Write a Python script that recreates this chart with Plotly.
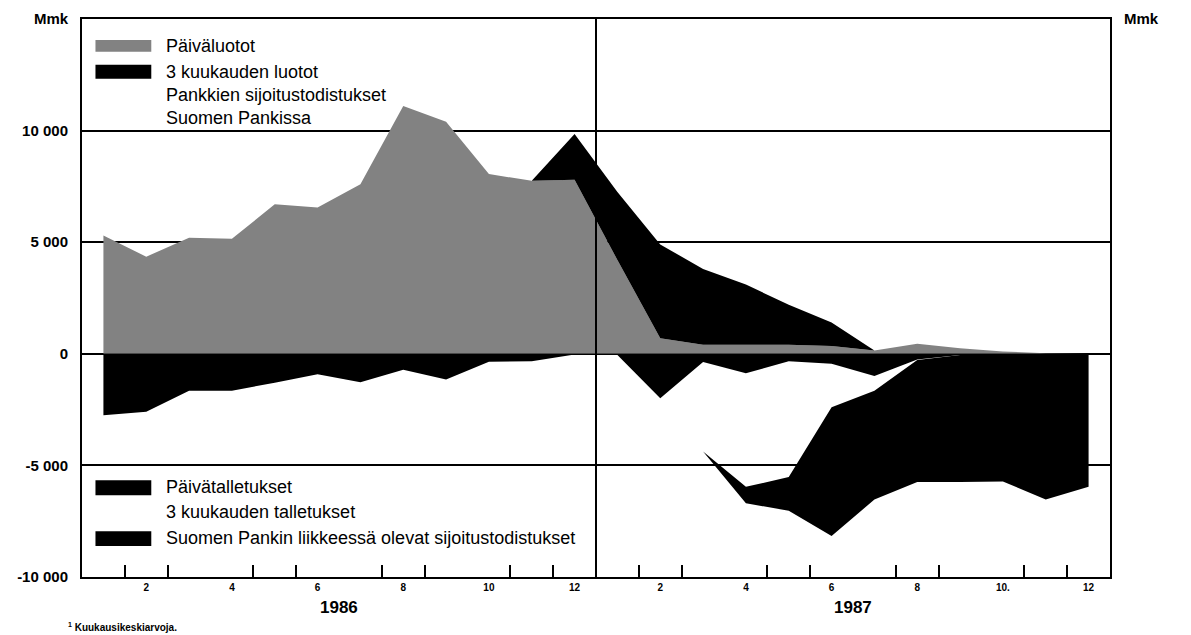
import plotly.graph_objects as go

# ---- data (Mmk, monthly averages) ----
# positions 1..12 = 1986 Jan..Dec, 13..24 = 1987 Jan..Dec
month_pos = [1, 2, 3, 4, 5, 6, 7, 8, 9, 10, 11, 12,
             13, 14, 15, 16, 17, 18, 19, 20, 21, 22, 23, 24]
tick_pos = [2, 4, 6, 8, 10, 12, 14, 16, 18, 20, 22, 24]
tick_text = ["2", "4", "6", "8", "10", "12", "2", "4", "6", "8", "10.", "12"]
year_pos = [6.5, 18.5]
year_text = ["1986", "1987"]

paivaluotot = [5300, 4350, 5200, 5150, 6700, 6550, 7600, 11100, 10400, 8050, 7750, 7800,
               4200, 700, 400, 400, 400, 350, 150, 450, 250, 100, 30, 0]
kk3_luotot = [0, 0, 0, 0, 0, 0, 0, 0, 0, 0, 0, 2050,
              3050, 4200, 3400, 2700, 1800, 1050, 0, 0, 0, 0, 0, 0]
paivatalletukset = [-2750, -2600, -1650, -1650, -1300, -920, -1280, -710, -1150, -360, -330, -30,
                    -50, -1990, -370, -875, -330, -445, -995, -250, -50, -30, -20, -20]
kk3_talletukset = [0, 0, 0, 0, 0, 0, 0, 0, 0, 0, 0, 0,
                   0, 0, -4010, -5085, -5190, -1955, -665, -30, 0, 0, 0, 0]
sp_sijoitustodistukset = [0, 0, 0, 0, 0, 0, 0, 0, 0, 0, 0, 0,
                          0, 0, 0, -740, -1510, -5760, -4870, -5460, -5690, -5690, -6510, -5940]

y_ticks = [-10000, -5000, 0, 5000, 10000]
y_text = ["-10 000", "-5 000", "0", "5 000", "10 000"]

minor_ticks = [1.5, 2.5, 4.5, 5.5, 7.5, 8.5, 10.5, 11.5,
               13.5, 14.5, 16.5, 17.5, 19.5, 20.5, 22.5, 23.5]
quarter_ticks = [3.5, 6.5, 9.5, 15.5, 18.5, 21.5]

GRAY = "#828282"
BLACK = "#000000"
FONT = "Liberation Sans, Arial, Helvetica, sans-serif"

fig = go.Figure()

def area(name, y, group, color):
    fig.add_trace(go.Scatter(
        x=month_pos, y=y, name=name, mode="lines", stackgroup=group,
        line=dict(width=0, color=color), fillcolor=color, showlegend=False,
        hoverinfo="x+y+name"))

area("Päiväluotot", paivaluotot, "pos", GRAY)
area("3 kuukauden luotot", kk3_luotot, "pos", BLACK)
area("Päivätalletukset", paivatalletukset, "neg", BLACK)
area("3 kuukauden talletukset", kk3_talletukset, "neg", "rgba(0,0,0,0)")
area("Suomen Pankin liikkeessä olevat sijoitustodistukset", sp_sijoitustodistukset, "neg", BLACK)

axis_font = dict(family=FONT, size=15, color="black", weight="bold")

# page has an 8px body margin; figure is sized/margined so the plot area
# lands at x 78.5..1110.5, y 17..577 of the 1191x635 window
fig.update_layout(
    width=1183, height=627,
    margin=dict(l=70.5, r=80.5, t=9, b=58),
    paper_bgcolor="white", plot_bgcolor="white",
    font=dict(family=FONT, color="black"),
    xaxis=dict(
        range=[0.5, 24.5], showgrid=False, zeroline=False,
        showline=True, mirror=True, linecolor="black", linewidth=2,
        tickmode="array", tickvals=tick_pos, ticktext=tick_text, ticks="",
        tickfont=dict(family=FONT, size=10, color="black", weight="bold"),
        ticklabelstandoff=0,
        minor=dict(tickmode="array", tickvals=minor_ticks, ticks="inside",
                   ticklen=12, tickwidth=2, tickcolor="black", showgrid=False),
    ),
    xaxis2=dict(
        overlaying="x", anchor="y", side="bottom", range=[0.5, 24.5],
        tickmode="array", tickvals=quarter_ticks, ticks="inside", ticklen=25,
        tickwidth=2, tickcolor="black", showticklabels=False,
        showgrid=False, zeroline=False, showline=False,
    ),
    yaxis=dict(
        range=[-10000, 15000], tickmode="array", tickvals=y_ticks, ticktext=y_text,
        showgrid=True, gridcolor="black", gridwidth=2, zeroline=False,
        showline=True, mirror=True, linecolor="black", linewidth=2,
        ticks="", ticklabelstandoff=9, tickfont=axis_font,
    ),
    yaxis2=dict(
        overlaying="y", anchor="x", side="right", range=[-10000, 15000],
        tickmode="array", tickvals=y_ticks, ticktext=y_text,
        showgrid=False, zeroline=False, showline=False,
        ticks="", ticklabelstandoff=13, tickfont=axis_font,
    ),
)

# year divider
fig.add_shape(type="line", xref="x", yref="paper", x0=12.5, x1=12.5, y0=0, y1=1,
              line=dict(color="black", width=2), layer="above")

# legend swatches
def swatch(y0, y1, color):
    fig.add_shape(type="rect", xref="paper", yref="paper",
                  x0=0.0131, x1=0.0674, y0=y0, y1=y1,
                  line=dict(width=0), fillcolor=color, layer="above")

swatch(0.9411, 0.9625, GRAY)
swatch(0.8929, 0.9179, BLACK)
swatch(0.1464, 0.1732, BLACK)
swatch(0.0554, 0.0821, BLACK)

legend_font = dict(family=FONT, size=18, color="black")
legend_items = [
    ("Päiväluotot", 0.9518),
    ("3 kuukauden luotot", 0.9054),
    ("Pankkien sijoitustodistukset<br>Suomen Pankissa", 0.8425),
    ("Päivätalletukset", 0.1607),
    ("3 kuukauden talletukset", 0.1161),
    ("Suomen Pankin liikkeessä olevat sijoitustodistukset", 0.0696),
]
for txt, yy in legend_items:
    fig.add_annotation(text=txt, xref="paper", yref="paper", x=0.0800, y=yy,
                       xanchor="left", yanchor="middle", align="left", showarrow=False,
                       font=legend_font)

# unit labels
fig.add_annotation(text="Mmk", xref="paper", yref="paper", x=-0.011, y=1.019,
                   xanchor="right", yanchor="top", showarrow=False, font=axis_font)
fig.add_annotation(text="Mmk", xref="paper", yref="paper", x=1.012, y=1.019,
                   xanchor="left", yanchor="top", showarrow=False, font=axis_font)

# year labels
for xp, yt in zip(year_pos, year_text):
    fig.add_annotation(text=yt, xref="x", yref="paper", x=xp, y=-0.054,
                       xanchor="center", yanchor="middle", showarrow=False,
                       font=dict(family=FONT, size=17, color="black", weight="bold"))

# footnote
fig.add_annotation(text="<sup>1</sup> Kuukausikeskiarvoja.", xref="paper", yref="paper",
                   x=-0.016, y=-0.089, xanchor="left", yanchor="middle", showarrow=False,
                   font=dict(family=FONT, size=10, color="black", weight="bold"))

fig.write_html("out.html")
